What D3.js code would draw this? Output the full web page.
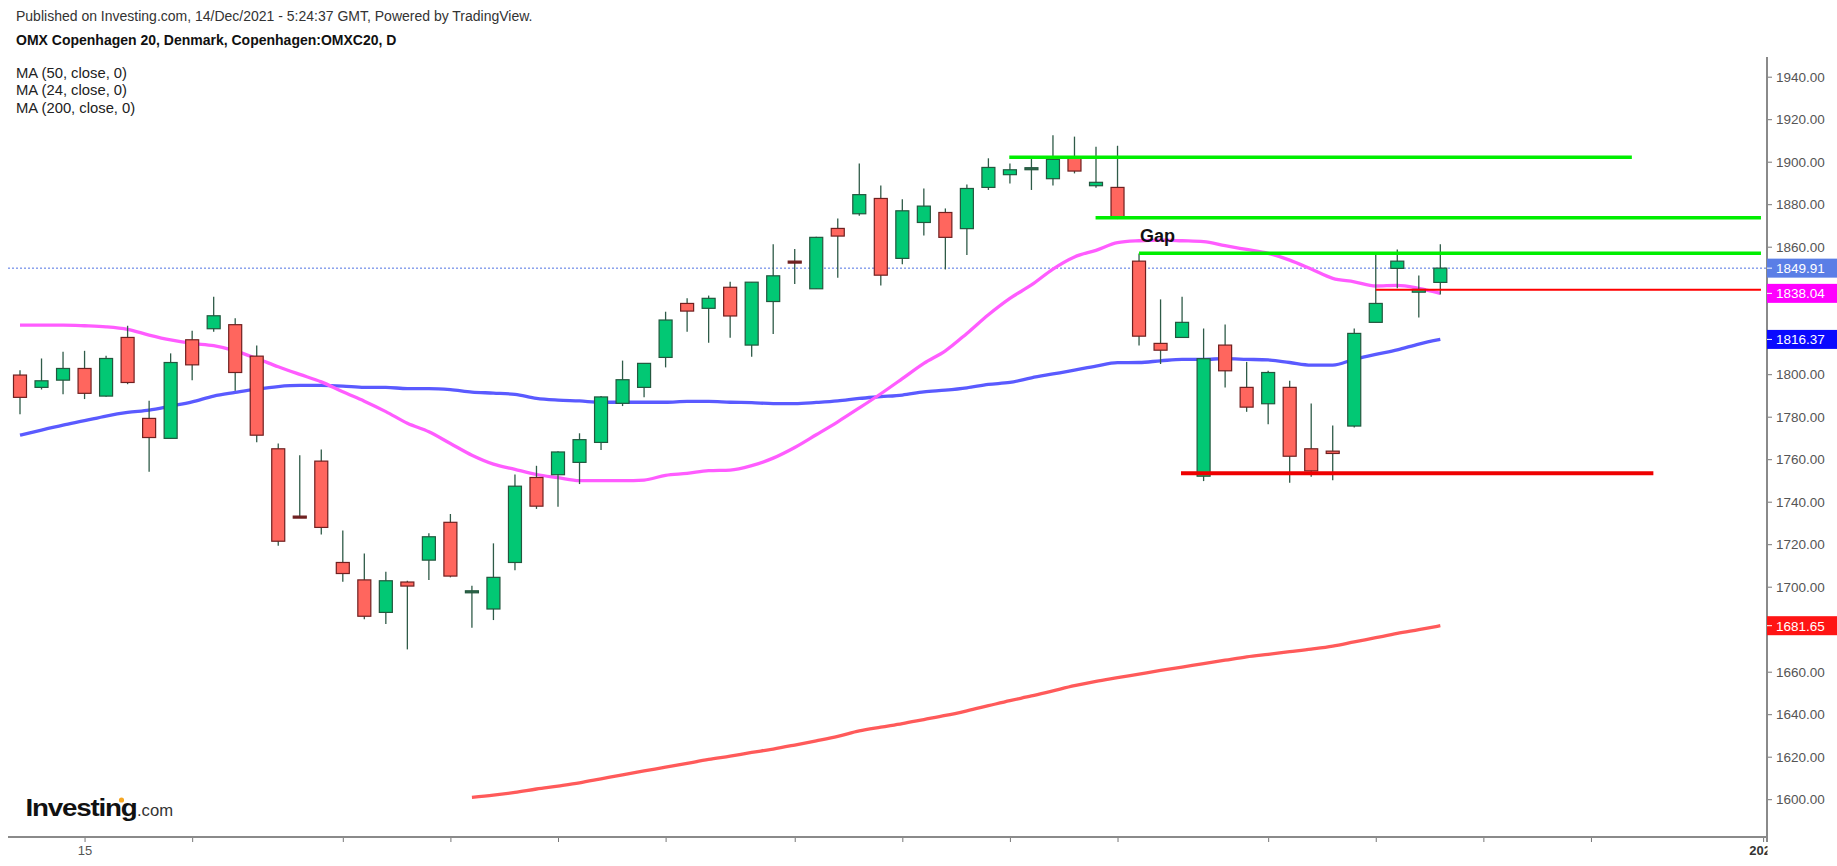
<!DOCTYPE html>
<html>
<head>
<meta charset="utf-8">
<script src="https://cdn.jsdelivr.net/npm/d3@7/dist/d3.min.js"></script>
<style>
  html, body { margin: 0; padding: 0; background: #ffffff; }
  svg { display: block; }
  text { font-family: "Liberation Sans", Arial, sans-serif; }
</style>
</head>
<body>
<svg id="chart" width="1837" height="866"></svg>
<script>
// ---------------- DATA ----------------
const opens  = [1799.6,1793.8,1797.2,1802.7,1789.7,1817.3,1779.2,1769.8,1816.2,1821.4,1823.3,1808.5,1764.9,1732.9,1759.1,1711.4,1703.2,1687.9,1702.2,1712.5,1730.3,1697.5,1689.5,1711.4,1751.4,1752.7,1758.5,1767.9,1786.3,1793.8,1807.9,1833.3,1831.0,1840.9,1813.7,1834.2,1852.9,1840.2,1868.6,1875.5,1882.7,1854.5,1871.4,1876.1,1868.5,1887.9,1893.9,1896.6,1892.0,1901.6,1888.7,1887.9,1853.2,1814.5,1817.3,1752.0,1813.7,1793.8,1786.1,1793.8,1764.9,1763.8,1775.6,1824.4,1849.8,1838.6,1843.2];
const highs  = [1801.9,1807.4,1810.6,1811.0,1808.7,1822.8,1787.5,1809.8,1820.5,1836.5,1826.3,1813.5,1767.4,1761.9,1764.6,1726.5,1715.6,1707.0,1702.8,1725.1,1734.2,1700.4,1720.4,1752.8,1756.9,1763.8,1772.2,1789.7,1806.4,1805.1,1829.4,1835.7,1837.0,1843.5,1843.3,1861.1,1858.9,1864.7,1873.3,1899.2,1888.8,1882.3,1887.4,1878.0,1889.3,1901.6,1899.2,1901.6,1912.4,1911.8,1907.0,1907.5,1856.8,1835.2,1836.4,1821.5,1823.4,1805.8,1801.6,1796.9,1786.2,1775.9,1821.5,1856.8,1858.7,1846.5,1861.1];
const lows   = [1781.1,1792.8,1790.6,1788.3,1789.4,1795.3,1754.1,1769.5,1797.2,1820.0,1792.2,1768.0,1719.3,1732.6,1724.6,1702.3,1684.7,1682.4,1670.5,1703.1,1704.4,1680.7,1684.3,1707.8,1736.6,1737.6,1748.3,1764.3,1785.0,1789.1,1803.2,1820.0,1814.8,1817.2,1808.2,1818.9,1842.4,1840.2,1845.4,1874.6,1841.8,1851.8,1865.3,1849.3,1856.1,1886.7,1889.8,1886.7,1888.8,1894.5,1887.7,1873.0,1813.5,1804.8,1817.3,1749.7,1793.8,1782.3,1776.5,1748.9,1751.7,1750.1,1774.9,1824.4,1840.4,1826.7,1837.5];
const closes = [1789.1,1796.9,1802.7,1791.0,1807.4,1796.1,1770.2,1805.5,1804.4,1827.5,1800.8,1771.3,1721.4,1732.6,1727.9,1706.2,1686.1,1702.8,1700.3,1723.5,1705.0,1697.7,1704.4,1747.3,1737.9,1763.4,1769.2,1789.3,1797.4,1805.1,1825.5,1829.7,1835.7,1827.4,1843.3,1846.3,1852.6,1864.4,1865.0,1884.5,1846.6,1876.9,1879.1,1864.4,1887.4,1897.3,1896.2,1896.8,1901.1,1895.6,1890.3,1873.6,1817.9,1811.3,1824.4,1807.3,1801.6,1784.5,1800.8,1761.4,1754.5,1762.7,1819.2,1833.3,1853.2,1839.9,1849.91];

// MA (50), one value per candle
const ma50 = [1771.3,1773.7,1776.0,1778.1,1780.3,1782.0,1783.1,1785.0,1787.0,1789.7,1791.4,1793.0,1794.2,1794.7,1794.7,1794.4,1793.8,1793.8,1793.2,1793.2,1792.7,1791.6,1791.1,1790.5,1788.6,1787.8,1787.4,1786.8,1786.8,1786.8,1786.8,1787.2,1787.2,1786.8,1786.6,1786.2,1786.2,1786.7,1787.4,1788.6,1789.4,1790.2,1791.7,1792.5,1793.6,1795.2,1796.1,1798.3,1800.1,1801.9,1803.8,1805.4,1805.5,1806.3,1807.0,1807.0,1807.3,1807.0,1806.7,1805.5,1804.3,1804.3,1807.0,1809.3,1811.4,1814.2,1816.37];
// MA (24)
const ma24 = [1823.1,1823.1,1823.1,1822.8,1822.3,1821.1,1818.4,1816.1,1814.5,1813.4,1811.0,1807.4,1803.5,1799.9,1796.4,1791.7,1787.3,1782.4,1776.9,1772.9,1767.4,1761.9,1757.7,1755.2,1752.8,1751.3,1749.9,1749.9,1749.9,1750.2,1752.4,1753.3,1754.6,1754.9,1757.0,1760.5,1765.5,1771.5,1777.6,1784.1,1790.8,1797.9,1805.1,1811.0,1819.2,1828.0,1835.7,1842.0,1849.5,1855.2,1858.3,1861.9,1862.8,1863.1,1862.8,1862.4,1860.5,1858.7,1856.9,1853.7,1849.5,1845.1,1843.5,1841.5,1841.8,1840.4,1838.04];
// MA (200), starts at candle index 21
const ma200Start = 21;
const ma200 = [1600.9,1601.9,1603.2,1604.8,1606.2,1607.7,1609.6,1611.5,1613.3,1615.1,1616.9,1618.7,1620.3,1622.0,1623.6,1625.5,1627.5,1629.6,1632.1,1633.9,1635.6,1637.5,1639.4,1641.6,1644.0,1646.4,1648.6,1651.0,1653.4,1655.5,1657.2,1658.9,1660.6,1662.2,1663.8,1665.4,1667.0,1668.2,1669.4,1670.6,1672.0,1674.0,1676.0,1678.0,1679.8,1681.65];

// drawn horizontal levels: price, start index, end index
const levelPrices = [1902.1, 1873.6, 1856.9, 1839.8, 1753.4];
const levelStarts = [45.97, 49.98, 52.0, 63.0, 53.95];
const levelEnds   = [74.9, 80.9, 80.9, 80.9, 75.9];
const levelKinds  = ["green", "green", "green", "redThin", "redThick"];

const lastPrice = 1849.91;
const priceTicks = d3.range(1600, 1941, 20);
const dateTickIdx = [3, 8, 15, 20, 25, 30, 36, 41, 46, 51, 58, 63, 68, 73, 81];
const dateTickLabels = {3: "15", 81: "2022"};
const badgeValues = [1849.91, 1838.04, 1816.37, 1681.65];

const headerPublished = "Published on Investing.com, 14/Dec/2021 - 5:24:37 GMT, Powered by TradingView.";
const headerTitle = "OMX Copenhagen 20, Denmark, Copenhagen:OMXC20, D";
const legendItems = ["MA (50, close, 0)", "MA (24, close, 0)", "MA (200, close, 0)"];
const gapLabel = "Gap";

// ---------------- DRAW ----------------
const svg = d3.select("#chart");
const W = 1837, H = 866;
const axisX = 1767, axisBottomY = 837, plotLeft = 8, axisTop = 57;

const x = d3.scaleLinear().domain([0, 81]).range([20, 20 + 81 * 21.52]);
const y = d3.scaleLinear().domain([1600, 1940]).range([799.2, 76.7]);

const defs = svg.append("defs");
defs.append("clipPath").attr("id", "plotClip")
  .append("rect").attr("x", plotLeft).attr("y", 0).attr("width", axisX - plotLeft).attr("height", axisBottomY);

// header
svg.append("text").attr("x", 16).attr("y", 21).attr("font-size", 14).attr("fill", "#333")
  .text(headerPublished);
svg.append("text").attr("x", 16).attr("y", 44.5).attr("font-size", 14).attr("font-weight", "bold").attr("fill", "#111")
  .text(headerTitle);
svg.selectAll("text.legend").data(legendItems).join("text").attr("class", "legend")
  .attr("x", 16).attr("y", (d, i) => 77.8 + i * 17.6).attr("font-size", 14.8).attr("fill", "#222").text(d => d);

const plot = svg.append("g").attr("clip-path", "url(#plotClip)");

// last price dotted line
plot.append("line").attr("x1", plotLeft).attr("x2", axisX)
  .attr("y1", y(lastPrice)).attr("y2", y(lastPrice))
  .attr("stroke", "#4f72e3").attr("stroke-width", 1).attr("stroke-dasharray", "2,2");

// moving averages
const lineGen = d3.line().x(d => x(d[0])).y(d => y(d[1])).curve(d3.curveMonotoneX);
plot.append("path").datum(ma200.map((v, k) => [k + ma200Start, v]))
  .attr("d", lineGen).attr("fill", "none").attr("stroke", "#ff5a5a").attr("stroke-width", 3.3).attr("stroke-linejoin", "round");
plot.append("path").datum(ma50.map((v, i) => [i, v]))
  .attr("d", lineGen).attr("fill", "none").attr("stroke", "#5a5aff").attr("stroke-width", 3.3).attr("stroke-linejoin", "round");
plot.append("path").datum(ma24.map((v, i) => [i, v]))
  .attr("d", lineGen).attr("fill", "none").attr("stroke", "#ff5cff").attr("stroke-width", 3.3).attr("stroke-linejoin", "round");

// candles
const idx = d3.range(opens.length);
const isUp = i => closes[i] >= opens[i];
plot.selectAll("line.wick").data(idx).join("line").attr("class", "wick")
  .attr("x1", i => x(i)).attr("x2", i => x(i))
  .attr("y1", i => y(highs[i])).attr("y2", i => y(lows[i]))
  .attr("stroke", "#2f5b48").attr("stroke-width", 1.3);
plot.selectAll("rect.body").data(idx).join("rect").attr("class", "body")
  .attr("x", i => x(i) - 6.5).attr("width", 13)
  .attr("y", i => {
    const t = y(Math.max(opens[i], closes[i]));
    const h = Math.abs(y(opens[i]) - y(closes[i]));
    return h < 2 ? t - (2 - h) / 2 : t;
  })
  .attr("height", i => Math.max(2, Math.abs(y(opens[i]) - y(closes[i]))))
  .attr("fill", i => {
    const h = Math.abs(y(opens[i]) - y(closes[i]));
    if (h < 2) return isUp(i) ? "#2c6a4c" : "#6b1e1e";
    return isUp(i) ? "#02c874" : "#ff665e";
  })
  .attr("stroke", i => isUp(i) ? "#23573e" : "#6f2020")
  .attr("stroke-width", 1.2);

// drawn levels
const levelStyle = {
  green:    {c: "#00ee00", w: 3.6},
  redThin:  {c: "#ff0000", w: 2},
  redThick: {c: "#ee0000", w: 3.8}
};
plot.selectAll("line.level").data(levelPrices.map((p, k) => k)).join("line").attr("class", "level")
  .attr("x1", k => x(levelStarts[k])).attr("x2", k => x(levelEnds[k]))
  .attr("y1", k => y(levelPrices[k])).attr("y2", k => y(levelPrices[k]))
  .attr("stroke", k => levelStyle[levelKinds[k]].c)
  .attr("stroke-width", k => levelStyle[levelKinds[k]].w);

// Gap annotation
plot.append("text").attr("x", 1140).attr("y", 241.5).attr("font-size", 18).attr("font-weight", "bold")
  .attr("fill", "#111").text(gapLabel);

// right price axis (labels covered by a price badge are left out, as in the reference)
const covered = v => badgeValues.some(b => Math.abs(y(b) - y(v)) < 16);
const yAxis = d3.axisRight(y).tickValues(priceTicks)
  .tickFormat(v => covered(v) ? "" : d3.format(".2f")(v)).tickSize(5).tickPadding(4);
const gy = svg.append("g").attr("transform", `translate(${axisX},0)`).call(yAxis);
gy.select(".domain").remove();
gy.selectAll(".tick line").attr("stroke", "#777");
gy.selectAll(".tick text").attr("fill", "#555").attr("font-size", 13.5)
  .attr("font-family", "'Liberation Sans', Arial, sans-serif");
svg.append("line").attr("x1", axisX).attr("x2", axisX).attr("y1", axisTop).attr("y2", axisBottomY + 5)
  .attr("stroke", "#8a8a8a").attr("stroke-width", 2);

// bottom date axis
const xAxis = d3.axisBottom(x).tickValues(dateTickIdx).tickFormat(d => dateTickLabels[d] || "").tickSize(5).tickPadding(4);
const gx = svg.append("g").attr("transform", `translate(0,${axisBottomY})`).call(xAxis);
gx.select(".domain").remove();
gx.selectAll(".tick line").attr("stroke", "#777");
gx.selectAll(".tick text").attr("fill", "#555").attr("font-size", 13)
  .attr("font-family", "'Liberation Sans', Arial, sans-serif");
// the year label is bold and cut off by the price axis
gx.selectAll(".tick").filter(d => d === 81).select("text")
  .attr("font-weight", "bold").attr("fill", "#333");
gx.append("clipPath").attr("id", "yearClipLocal")
  .append("rect").attr("x", -200).attr("y", -5).attr("width", 200 - (x(81) - axisX)).attr("height", 40);
gx.selectAll(".tick").filter(d => d === 81).select("text").attr("clip-path", "url(#yearClipLocal)");
svg.append("line").attr("x1", plotLeft).attr("x2", axisX).attr("y1", axisBottomY).attr("y2", axisBottomY)
  .attr("stroke", "#8a8a8a").attr("stroke-width", 2);

// price badges
const badgeColors = ["#5a7ee6", "#ff00ff", "#0a0aff", "#ff1414"];
const badges = svg.selectAll("g.badge").data(badgeValues).join("g").attr("class", "badge")
  .attr("transform", d => `translate(${axisX},${y(d)})`);
badges.append("rect").attr("x", 0).attr("y", -9.5).attr("width", W - axisX).attr("height", 19)
  .attr("fill", (d, i) => badgeColors[i]);
badges.append("line").attr("x1", 0).attr("x2", 5).attr("y1", 0).attr("y2", 0).attr("stroke", "#ffffff").attr("stroke-width", 1);
badges.append("text").attr("x", 9).attr("y", 4.8).attr("font-size", 13.5).attr("fill", "#ffffff")
  .text(d => d3.format(".2f")(d));

// Investing.com logo
const logo = svg.append("g");
logo.append("text").attr("x", 25.5).attr("y", 816).attr("font-size", 23).attr("font-weight", "bold")
  .attr("fill", "#111").attr("textLength", 111).attr("lengthAdjust", "spacingAndGlyphs")
  .attr("letter-spacing", -1).text("Investing");
logo.append("text").attr("x", 137).attr("y", 816).attr("font-size", 16)
  .attr("fill", "#333").attr("textLength", 36).attr("lengthAdjust", "spacingAndGlyphs").text(".com");
logo.append("circle").attr("cx", 121.5).attr("cy", 800).attr("r", 2.6).attr("fill", "#f5a623");
</script>
</body>
</html>
